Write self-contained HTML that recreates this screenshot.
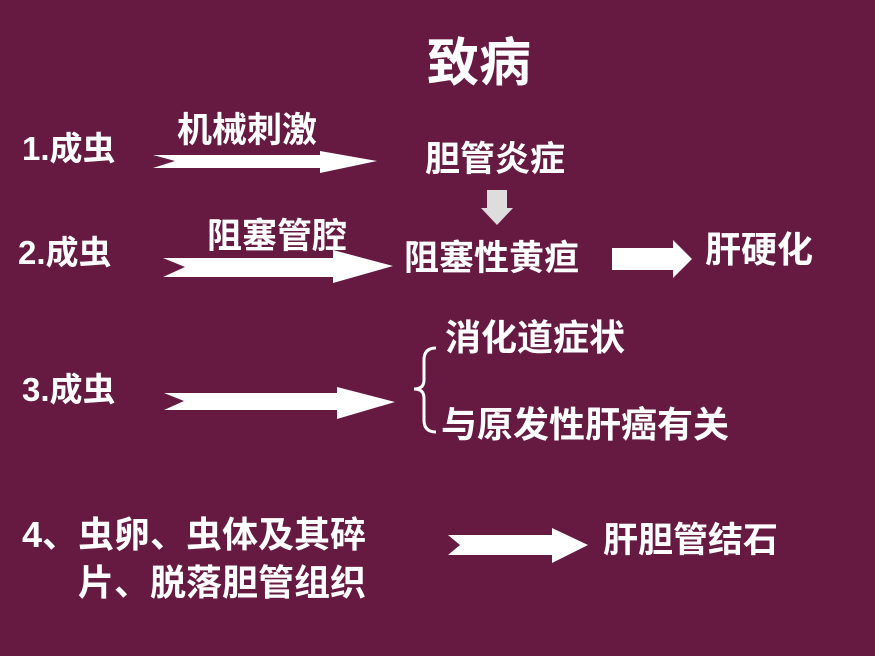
<!DOCTYPE html>
<html><head><meta charset="utf-8"><style>
body{margin:0;width:875px;height:656px;background:#661a42;position:relative;overflow:hidden;font-family:"Liberation Sans","Noto Sans CJK SC",sans-serif;color:#fff;}
.t{position:absolute;white-space:nowrap;font-size:32px;line-height:1;font-weight:bold;}
svg{position:absolute;left:0;top:0}
</style></head><body>
<svg width="875" height="656">
<g fill="#fff">
<polygon points="153,155 320,155 320,151 377,161 320,173 320,168 153,168 175,161"/>
<polygon points="163,258 333,258 333,250 393,266 333,283 333,277 163,277 185,267"/>
<polygon points="164,393 337,393 337,387 395,402 337,419 337,410 164,410 184,401"/>
<polygon points="448,535 552,535 552,528 588,545 552,563 552,555 448,555 460,545"/>
<polygon points="612,248 673,248 673,240 692,259 673,278 673,270 612,270"/>
</g>
<polygon points="487,190 507,190 507,208 513,208 497,225 481,208 487,208" fill="#ddd"/>
<path d="M436,348 Q424,348 424,360 L424,380 Q424,389 414,389 Q424,389 424,398 L424,420 Q424,432 436,432" stroke="#fff" stroke-width="3" fill="none"/>
</svg>
<div class="t" style="left:427px;top:38px;font-size:52px">致病</div>
<div class="t" style="left:22px;top:132px;font-size:33px">1.成虫</div>
<div class="t" style="left:177px;top:113px;font-size:35px">机械刺激</div>
<div class="t" style="left:425px;top:142px;font-size:35px">胆管炎症</div>
<div class="t" style="left:18px;top:236px;font-size:33px">2.成虫</div>
<div class="t" style="left:207px;top:219px;font-size:35px">阻塞管腔</div>
<div class="t" style="left:404px;top:241px;font-size:35px">阻塞性黄疸</div>
<div class="t" style="left:705px;top:232px;font-size:36px">肝硬化</div>
<div class="t" style="left:22px;top:373px;font-size:33px">3.成虫</div>
<div class="t" style="left:445px;top:320px;font-size:36px">消化道症状</div>
<div class="t" style="left:441px;top:407px;font-size:36px">与原发性肝癌有关</div>
<div class="t" style="left:22px;top:517px;font-size:36px">4、虫卵、虫体及其碎</div>
<div class="t" style="left:78px;top:565px;font-size:36px">片、脱落胆管组织</div>
<div class="t" style="left:603px;top:523px;font-size:35px">肝胆管结石</div>
</body></html>
